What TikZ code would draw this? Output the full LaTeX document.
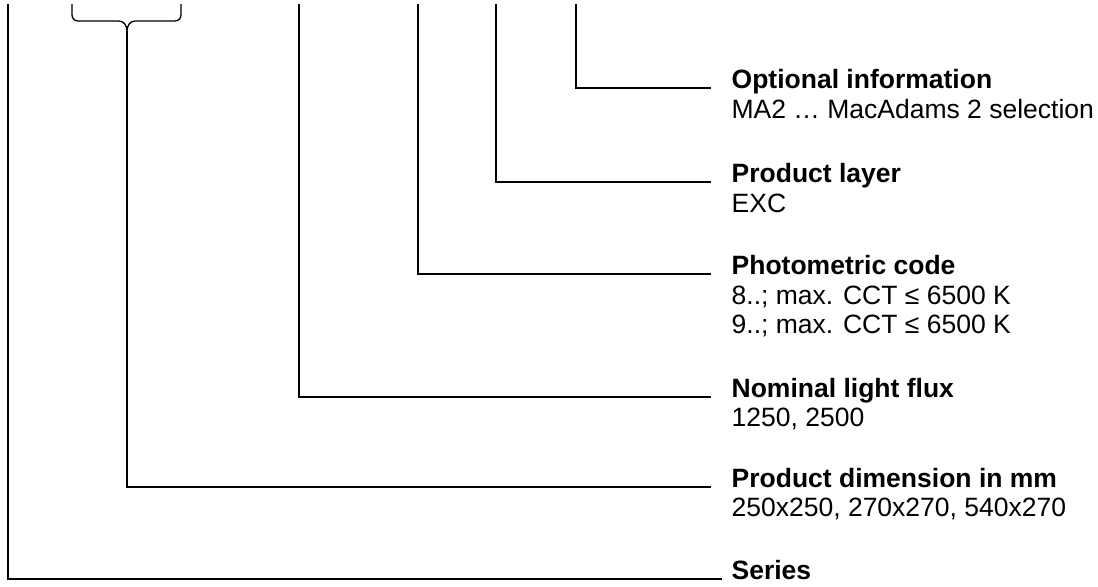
\documentclass[tikz,border=0pt]{standalone}
\usepackage{fontspec}
\setmainfont{Liberation Sans}
\begin{document}
\begin{tikzpicture}[x=0.5pt, y=-0.5pt, line width=0.65pt,
    title/.style={anchor=base west, inner sep=0pt, font=\fontsize{13.25}{15}\selectfont\bfseries},
    info/.style={anchor=base west, inner sep=0pt, font=\fontsize{13.25}{15}\selectfont}]
  \useasboundingbox (0,0) rectangle (1098,586);
  % Labels
  \node[title] (opt) at (731,88) {Optional information};
  \node[info] (optA) at (731,118) {MA2 … MacAdams 2 selection};
  \node[title] (lay) at (731,182) {Product layer};
  \node[info] (layA) at (731,212) {EXC};
  \node[title] (pho) at (731,274) {Photometric code};
  \node[info] (phoA) at (731,304) {8..; max. CCT ≤ 6500 K};
  \node[info] (phoB) at (731,333) {9..; max. CCT ≤ 6500 K};
  \node[title] (flux) at (731,397) {Nominal light flux};
  \node[info] (fluxA) at (731,426) {1250, 2500};
  \node[title] (dim) at (731,487) {Product dimension in mm};
  \node[info] (dimA) at (731,516) {250x250, 270x270, 540x270};
  \node[title] (ser) at (731,579) {Series};
  % Line tops
  \coordinate (optTop) at (576,4);
  \coordinate (layTop) at (496,4);
  \coordinate (phoTop) at (418,4);
  \coordinate (fluxTop) at (299,4);
  \coordinate (dimTop) at (127,31);
  \coordinate (serTop) at (8,4);
  % Brace over the dimension digits
  \draw (72,4) -- (72,15) to[out=-90,in=180] (78,21) -- (119,21)
    to[out=0,in=90] (dimTop) to[out=90,in=180] (135,21) -- (175,21)
    to[out=0,in=-90] (181,15) -- (181,4);
  % Connectors
  \draw (optTop) |- ([xshift=-10pt]opt.base west);
  \draw (layTop) |- ([xshift=-10pt]lay.base west);
  \draw (phoTop) |- ([xshift=-10pt]pho.base west);
  \draw (fluxTop) |- ([xshift=-10pt]flux.base west);
  \draw (dimTop) |- ([xshift=-10pt]dim.base west);
  \draw (serTop) |- ([xshift=-4.5pt]ser.base west);
\end{tikzpicture}
\end{document}
